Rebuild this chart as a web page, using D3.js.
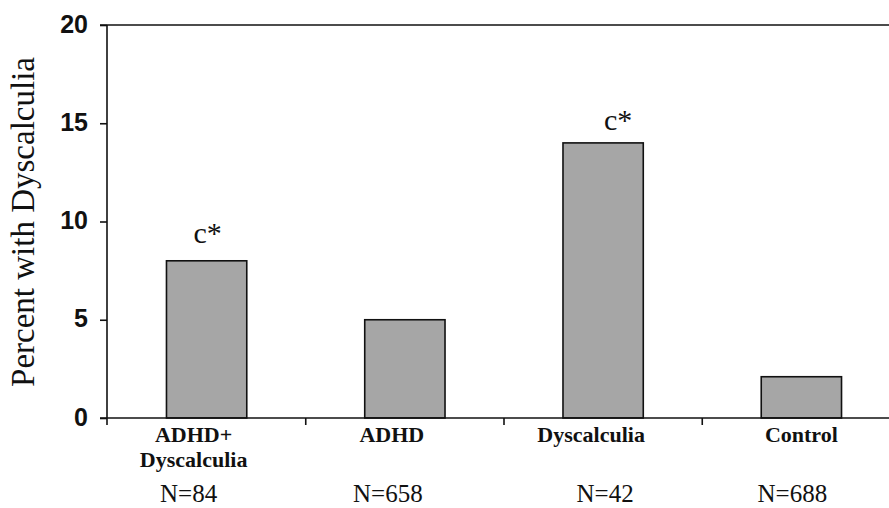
<!DOCTYPE html>
<html><head><meta charset="utf-8">
<script src="https://cdn.jsdelivr.net/npm/d3@7"></script>
<style>body{margin:0;background:#fff}svg{display:block}</style>
</head><body>
<svg id="c" width="889" height="508"></svg>
<script>
const categories = [["ADHD+","Dyscalculia"],["ADHD"],["Dyscalculia"],["Control"]];
const values = [8, 5, 14, 2.1];
const nLabels = ["N=84","N=658","N=42","N=688"];
const marks = ["c*","","c*",""];
const yTicks = [0,5,10,15,20];

// layout tweaks (pixel offsets relative to bar centres)
const catDx = [-13, -13, -12, 0];
const nDx = [-18, -17, 2, -9];
const markDx = [1, 0, 15, 0];
const markDy = [-18, 0, -13, 0];

const serif = "'Liberation Serif', 'Times New Roman', serif";
const sans = "'Liberation Sans', Arial, sans-serif";
const ink = "#111";

const svg = d3.select("#c");
const x = d3.scaleBand().domain(d3.range(values.length)).range([107, 901]).paddingInner(0.595).paddingOuter(0.3);
const y = d3.scaleLinear().domain([0,20]).range([418, 25]);

// bars
svg.selectAll("rect.bar").data(values).join("rect").attr("class","bar")
  .attr("x",(d,i)=>x(i)).attr("width",x.bandwidth())
  .attr("y",d=>y(d)).attr("height",d=>y(0)-y(d))
  .attr("fill","#a6a6a6").attr("stroke",ink).attr("stroke-width",1.6);

// y axis
const yAxis = d3.axisLeft(y).tickValues(yTicks).tickSize(7).tickFormat(d3.format("d"));
const gy = svg.append("g").attr("transform","translate(107,0)").call(yAxis);
gy.select(".domain").remove();
gy.selectAll(".tick line").attr("stroke",ink).attr("stroke-width",1.6);
gy.selectAll(".tick text").attr("x",-19).attr("dy","0.28em").attr("font-family",sans)
  .attr("font-weight","bold").attr("font-size",25).attr("fill",ink);
svg.append("line").attr("x1",107).attr("x2",107).attr("y1",y(20)).attr("y2",y(0)+7).attr("stroke",ink).attr("stroke-width",1.6);
svg.append("line").attr("x1",100).attr("x2",889).attr("y1",y(0)).attr("y2",y(0)).attr("stroke",ink).attr("stroke-width",1.6);
svg.append("line").attr("x1",100).attr("x2",889).attr("y1",y(20)).attr("y2",y(20)).attr("stroke",ink).attr("stroke-width",1.6);

// x ticks at band boundaries
const step = x.step();
const bounds = d3.range(1, values.length).map(i => x(i) - x.paddingInner()*step/2);
svg.selectAll("line.xt").data(bounds).join("line").attr("class","xt")
  .attr("x1",d=>d).attr("x2",d=>d).attr("y1",y(0)).attr("y2",y(0)+7)
  .attr("stroke",ink).attr("stroke-width",1.6);

// category labels
const cx = i => x(i) + x.bandwidth()/2;
categories.forEach((lines,i)=>{
  lines.forEach((t,j)=>{
    svg.append("text").attr("x",cx(i)+catDx[i]).attr("y",442+j*25).attr("text-anchor","middle")
      .attr("font-family",serif).attr("font-weight","bold")
      .attr("font-size",22).attr("fill",ink).text(t);
  });
});
svg.selectAll("text.n").data(nLabels).join("text").attr("class","n")
  .attr("x",(d,i)=>cx(i)+nDx[i]).attr("y",502).attr("text-anchor","middle")
  .attr("font-family",serif).attr("font-size",25).attr("fill",ink).text(d=>d);

// annotations
svg.selectAll("text.m").data(marks).join("text").attr("class","m")
  .attr("x",(d,i)=>cx(i)+markDx[i]).attr("y",(d,i)=>y(values[i])+markDy[i]).attr("text-anchor","middle")
  .attr("font-family",serif).attr("font-size",30).attr("fill",ink).text(d=>d);

// y label
svg.append("text").attr("transform","translate(34,222) rotate(-90)").attr("text-anchor","middle")
  .attr("font-family",serif).attr("font-size",33).attr("fill",ink)
  .text("Percent with Dyscalculia");
</script>
</body></html>
